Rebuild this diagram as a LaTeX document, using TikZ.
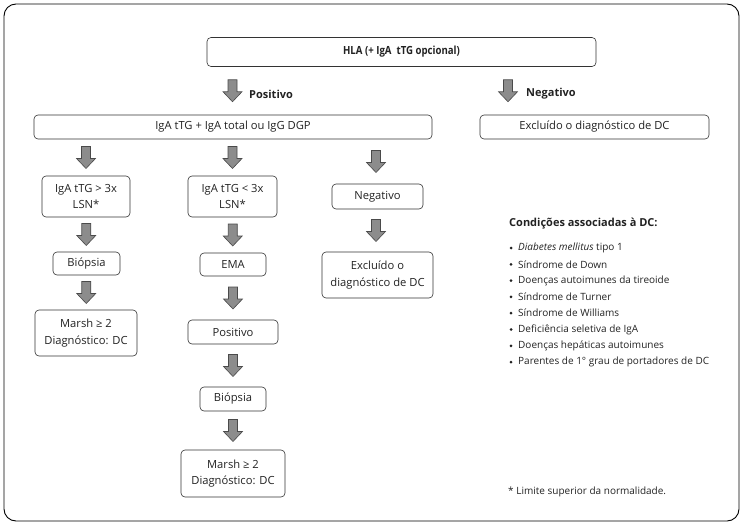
\documentclass[tikz,border=0pt]{standalone}
\usepackage{fontspec}
\setmainfont{Open Sans}
\usetikzlibrary{calc}
\definecolor{arrowfill}{HTML}{8C8C8C}
\definecolor{arrowline}{HTML}{4A4A4A}
\definecolor{boxline}{HTML}{333333}
\definecolor{txt}{HTML}{222222}
\tikzset{
  box/.style={draw=boxline, line width=0.6pt, rounded corners=4pt, align=center,
    font=\fontsize{11.2}{16.3}\selectfont, text=txt, inner sep=1pt},
  lbl/.style={font=\bfseries\fontsize{11}{13}\selectfont, text=txt, anchor=west, inner sep=0pt},
  listitem/.style={anchor=west, inner sep=0pt, text=txt, font=\fontsize{10}{12}\selectfont},
  bulletdot/.style={circle, fill=txt, inner sep=0pt, minimum size=3pt},
  barrow/.pic={\draw[fill=arrowfill, draw=arrowline, line width=0.6pt, line join=miter]
     (-4.5,-11) -- (4.5,-11) -- (4.5,1) -- (9.5,1) -- (0,11) -- (-9.5,1) -- (-4.5,1) -- cycle;},
}
\begin{document}
\begin{tikzpicture}[x=1pt,y=-1pt]
\useasboundingbox (0,0) rectangle (744,525);
\draw[line width=0.9pt, rounded corners=12pt] (4,4) rectangle (739,521);

% top level
\node[box, minimum width=389pt, minimum height=29pt, font=\bfseries\fontsize{11.2}{13}\selectfont\addfontfeatures{FakeStretch=0.86}] (hla) at (401.5,52) {HLA (+ IgA\ \ tTG opcional)};
\node[box, minimum width=398pt, minimum height=24pt] (iga) at (233,127) {IgA tTG + IgA total ou IgG DGP};
\node[box, minimum width=229pt, minimum height=24pt] (excl) at (594.5,127) {Excluído o diagnóstico de DC};

% column 1
\node[box, minimum width=88pt, minimum height=41pt] (c1a) at (86,196.5) {IgA tTG > 3x\\LSN*};
\node[box, minimum width=67pt, minimum height=23pt] (c1b) at (86.5,263.5) {Biópsia};
\node[box, minimum width=102pt, minimum height=46pt] (c1c) at (86,333) {Marsh ≥ 2\\Diagnóstico: DC};

% column 2
\node[box, minimum width=89pt, minimum height=41pt] (c2a) at (232.5,196.5) {IgA tTG < 3x\\LSN*};
\node[box, minimum width=66pt, minimum height=23pt] (c2b) at (233,264.5) {EMA};
\node[box, minimum width=90pt, minimum height=24pt] (c2c) at (233,332) {Positivo};
\node[box, minimum width=66pt, minimum height=24pt] (c2d) at (233,399) {Biópsia};
\node[box, minimum width=104pt, minimum height=47pt] (c2e) at (233,473.5) {Marsh ≥ 2\\Diagnóstico: DC};

% column 3
\node[box, minimum width=91pt, minimum height=25pt] (c3a) at (377.5,196.5) {Negativo};
\node[box, minimum width=111pt, minimum height=46pt] (c3b) at (377.5,275) {Excluído o\\diagnóstico de DC};

% block arrows
\coordinate (negx) at (508,0);
\coordinate (c3x) at (376,0);
\pic at ($(hla.south -| c2a.center)!0.5!(iga.north -| c2a.center)$) {barrow};
\pic at ($(hla.south -| negx)!0.5!(excl.north -| negx)$) {barrow};
\node[lbl] (pos) at (249,94) {Positivo};
\node[lbl] (neg) at (526,94) {Negativo};

\pic at ($(iga.south -| c1a.center)!0.5!(c1a.north)$) {barrow};
\pic at ($(iga.south -| c2a.center)!0.5!(c2a.north)$) {barrow};
\pic at ($(iga.south -| c3x)!0.5!(c3a.north -| c3x)$) {barrow};

\pic at ($(c1a.south)!0.5!(c1b.north)$) {barrow};
\pic at ($(c1b.south)!0.5!(c1c.north)$) {barrow};

\pic at ($(c2a.south)!0.5!(c2b.north)$) {barrow};
\pic at ($(c2b.south)!0.5!(c2c.north)$) {barrow};
\pic at ($(c2c.south)!0.5!(c2d.north)$) {barrow};
\pic at ($(c2d.south)!0.5!(c2e.north)$) {barrow};

\pic at ($(c3a.south -| c3x)!0.5!(c3b.north -| c3x)$) {barrow};

% associated conditions
\node[anchor=west, inner sep=0pt, text=txt, font=\bfseries\fontsize{11}{13}\selectfont] (cond) at (509,224) {Condições associadas à DC:};
\foreach \i/\t [count=\k from 0] in {
  1/{\textit{Diabetes mellitus} tipo 1},
  2/{Síndrome de Down},
  3/{Doenças autoimunes da tireoide},
  4/{Síndrome de Turner},
  5/{Síndrome de Williams},
  6/{Deficiência seletiva de IgA},
  7/{Doenças hepáticas autoimunes},
  8/{Parentes de 1° grau de portadores de DC}}{
  \node[bulletdot] (b\i) at (511,248+16.3*\k) {};
  \node[listitem] (it\i) at (518,248+16.3*\k) {\t};
}

\node[anchor=west, inner sep=0pt, text=txt, font=\fontsize{10}{12}\selectfont] (foot) at (508,492) {* Limite superior da normalidade.};
\end{tikzpicture}
\end{document}
